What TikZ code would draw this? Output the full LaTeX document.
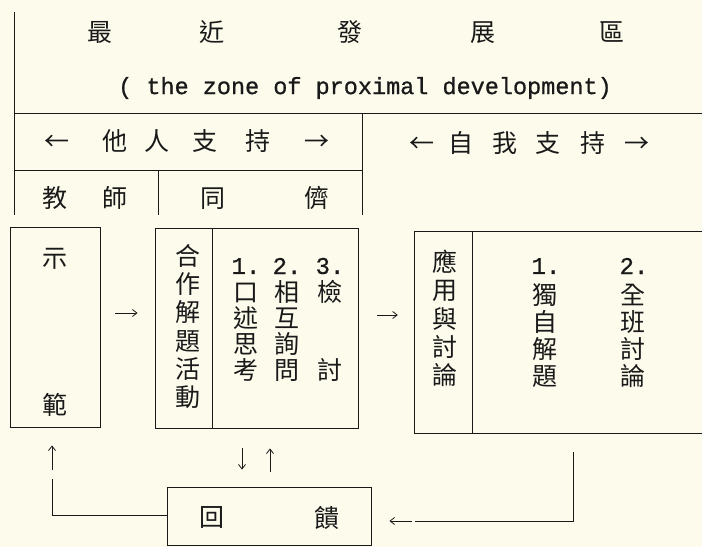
\documentclass[tikz,border=0pt]{standalone}
\usepackage{fontspec}
\newfontfamily\cjk{Noto Sans CJK TC}
\newfontfamily\mono[FakeBold=0.8]{Liberation Mono}
\usetikzlibrary{arrows.meta}
\definecolor{paper}{RGB}{252,251,236}
\definecolor{ink}{RGB}{25,25,25}
\tikzset{
  ch/.style={font=\cjk\fontsize{25}{25}\selectfont, text=ink, inner sep=0pt,
             text height=20pt, text depth=1pt},
  num/.style={font=\mono\fontsize{24}{24}\selectfont, text=ink, inner sep=0pt},
  sub/.style={font=\mono\fontsize{23.5}{24}\selectfont, text=ink, inner sep=0pt},
  ln/.style={draw=ink, line width=0.9pt},
  box/.style={draw=ink, line width=0.9pt, inner sep=0pt},
  arr/.style={draw=ink, line width=0.8pt, -{Straight Barb[length=4.5pt,width=7pt]}},
}
\begin{document}
\begin{tikzpicture}[x=1pt,y=-1pt]
\useasboundingbox (0,0) rectangle (702,547);
\fill[paper] (0,0) rectangle (702,547);

% header grid
\draw[ln] (14,12) -- (14,215);
\draw[ln] (14,113) -- (702,113);
\draw[ln] (14,170) -- (362,170);
\draw[ln] (362,113) -- (362,215);
\draw[ln] (158,170) -- (158,215);

% title
\foreach \c/\x [count=\i] in {最/100,近/212,發/350,展/483,區/612}
  \node[ch] (t\i) at (\x,32) {\c};
\node[sub] (subtitle) at (365,88) {( the zone of proximal development)};

% support rows
\foreach \c/\x [count=\i] in {←/57,他/115,人/157,支/205,持/258,→/317}
  \node[ch] (o\i) at (\x,141) {\c};
\foreach \c/\x [count=\i] in {←/422,自/461,我/505,支/548,持/593,→/637}
  \node[ch] (s\i) at (\x,143) {\c};
\foreach \c/\x [count=\i] in {教/55,師/115,同/213,儕/317}
  \node[ch] (p\i) at (\x,198) {\c};

% demonstration box
\node[box, minimum width=90pt, minimum height=200pt] (demo) at (55,327) {};
\node[ch] (d1) at (55,258) {示};
\node[ch] (d2) at (55,405) {範};

% cooperation box
\node[box, minimum width=203pt, minimum height=200pt] (coop) at (256.5,328) {};
\draw[ln] ([xshift=58pt]coop.north west) -- ([xshift=58pt]coop.south west);
\foreach \c [count=\i from 0] in {合,作,解,題,活,動}
  \node[ch] (ca\i) at (188,{256+28.2*\i}) {\c};
\node[num] (n1) at (246,266) {1.};
\foreach \c [count=\i from 0] in {口,述,思,考}
  \node[ch] (cb\i) at (246,{292+26*\i}) {\c};
\node[num] (n2) at (287,266) {2.};
\foreach \c [count=\i from 0] in {相,互,詢,問}
  \node[ch] (cc\i) at (287,{292+26*\i}) {\c};
\node[num] (n3) at (330,266) {3.};
\node[ch] (cd1) at (330,292) {檢};
\node[ch] (cd4) at (330,370) {討};

% application box (open to the right)
\node[minimum width=287pt, minimum height=201pt, inner sep=0pt] (apply) at (558.5,332.5) {};
\draw[ln] (apply.north east) -- (apply.north west) -- (apply.south west) -- (apply.south east);
\draw[ln] ([xshift=58pt]apply.north west) -- ([xshift=58pt]apply.south west);
\foreach \c [count=\i from 0] in {應,用,與,討,論}
  \node[ch] (aa\i) at (445,{262+28.25*\i}) {\c};
\node[num] (m1) at (546,266) {1.};
\foreach \c [count=\i] in {獨,自,解,題}
  \node[ch] (ab\i) at (545,{268+27*\i}) {\c};
\node[num] (m2) at (634,266) {2.};
\foreach \c [count=\i] in {全,班,討,論}
  \node[ch] (ac\i) at (633,{268+27*\i}) {\c};

% feedback box
\node[box, minimum width=204pt, minimum height=58pt] (fb) at (269,516) {};
\node[ch] (f1) at (212,517) {回};
\node[ch] (f2) at (327,518) {饋};

% connectors
\coordinate (ya) at (0,313);
\draw[arr, shorten <=15pt, shorten >=17pt] (demo.east |- ya) -- (coop.west |- ya);
\coordinate (yb) at (0,315);
\draw[arr, shorten <=19pt, shorten >=17pt] (coop.east |- yb) -- (apply.west |- yb);
\coordinate (xd) at (242,0);
\coordinate (xu) at (270,0);
\draw[arr, shorten <=20pt, shorten >=17pt] (coop.south -| xd) -- (fb.north -| xd);
\draw[arr, shorten <=15pt, shorten >=20pt] (fb.north -| xu) -- (coop.south -| xu);

\coordinate (xr) at (573,0);
\coordinate (yr) at (0,521);
\coordinate (gapR) at (415,521);
\draw[ln, line width=0.8pt, shorten <=19pt] (apply.south -| xr) -- (xr |- yr) -- (gapR);
\draw[arr, shorten >=18pt] ([xshift=-3pt]gapR) -- (fb.east |- gapR);

\coordinate (xl) at (52,0);
\coordinate (yl) at (0,515);
\coordinate (gapL) at (52,479);
\draw[ln, line width=0.8pt] (fb.west |- yl) -- (xl |- yl) -- (gapL);
\draw[arr, shorten >=18pt] ([yshift=9pt]gapL) -- (demo.south -| xl);
\end{tikzpicture}
\end{document}
